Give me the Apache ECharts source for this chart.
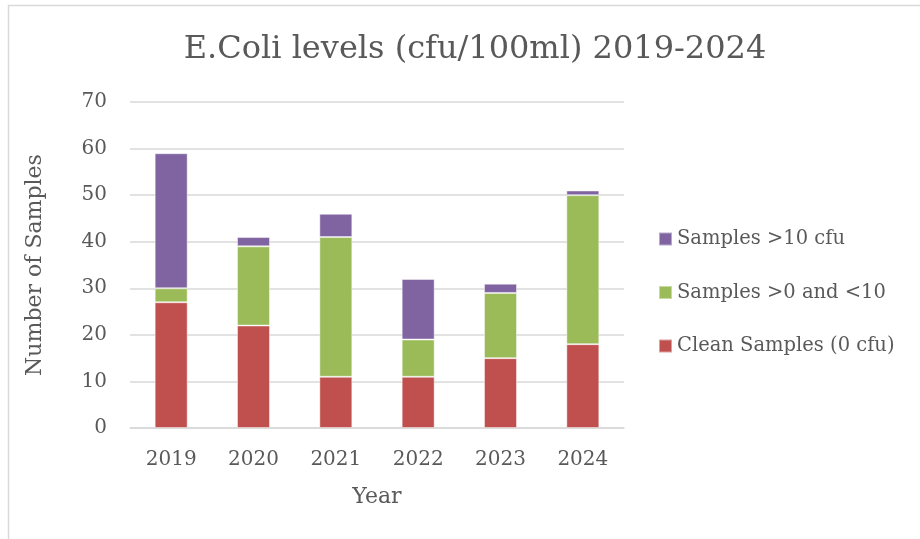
<!DOCTYPE html>
<html>
<head>
<meta charset="utf-8">
<script src="https://cdn.jsdelivr.net/npm/echarts@6/dist/echarts.min.js"></script>
<style>
  html, body { margin: 0; padding: 0; background: #fff; }
  #main { width: 920px; height: 539px; }
</style>
</head>
<body>
<div id="main"></div>
<script>
var years = ['2019', '2020', '2021', '2022', '2023', '2024'];
var cleanSamples = [27, 22, 11, 11, 15, 18];
var lowSamples = [3, 17, 30, 8, 14, 32];
var highSamples = [29, 2, 5, 13, 2, 1];
var yTicks = [0, 10, 20, 30, 40, 50, 60, 70];

var FONT = 'DejaVu Serif';
var TXT = '#595959';

var chart = echarts.init(document.getElementById('main'));

function barSeries(name, data, color) {
  return {
    name: name,
    type: 'bar',
    stack: 'total',
    barWidth: 33,
    data: data,
    itemStyle: {
      color: color,
      borderColor: 'rgba(255,255,255,0.45)',
      borderWidth: 1
    }
  };
}

var option = {
  animation: false,
  backgroundColor: '#fff',
  title: {
    text: 'E.Coli levels (cfu/100ml) 2019-2024',
    left: 470,
    top: 29,
    textAlign: 'center',
    textStyle: { fontFamily: FONT, fontSize: 32, fontWeight: 'normal', color: TXT }
  },
  graphic: [{
    type: 'rect',
    shape: { x: 8.5, y: 5.5, width: 1000, height: 1000 },
    style: { fill: 'none', stroke: '#d9d9d9', lineWidth: 1.5 }
  }],
  legend: {
    orient: 'vertical',
    left: 658,
    top: 229,
    padding: 0,
    itemWidth: 13,
    itemHeight: 13,
    itemGap: 33.5,
    icon: 'rect',
    data: ['Samples >10 cfu', 'Samples >0 and <10', 'Clean Samples (0 cfu)'],
    textStyle: { fontFamily: FONT, fontSize: 19.5, color: TXT }
  },
  grid: { left: 130, right: 296, top: 102, bottom: 111 },
  xAxis: {
    type: 'category',
    data: years,
    name: 'Year',
    nameLocation: 'middle',
    nameGap: 58,
    nameTextStyle: { fontFamily: FONT, fontSize: 22, color: TXT },
    axisLine: { lineStyle: { color: '#d9d9d9', width: 1.5 } },
    axisTick: { show: false },
    axisLabel: { fontFamily: FONT, fontSize: 20, color: TXT, margin: 22 }
  },
  yAxis: {
    type: 'value',
    min: yTicks[0],
    max: yTicks[yTicks.length - 1],
    interval: 10,
    name: 'Number of Samples',
    nameLocation: 'middle',
    nameGap: 84,
    nameTextStyle: { fontFamily: FONT, fontSize: 22, color: TXT },
    axisLine: { show: false },
    axisTick: { show: false },
    splitLine: { lineStyle: { color: '#d9d9d9', width: 1.5 } },
    axisLabel: { fontFamily: FONT, fontSize: 20, color: TXT, margin: 23 }
  },
  series: [
    barSeries('Clean Samples (0 cfu)', cleanSamples, '#C0504D'),
    barSeries('Samples >0 and <10', lowSamples, '#9BBB59'),
    barSeries('Samples >10 cfu', highSamples, '#8064A2')
  ]
};

chart.setOption(option);
</script>
</body>
</html>
